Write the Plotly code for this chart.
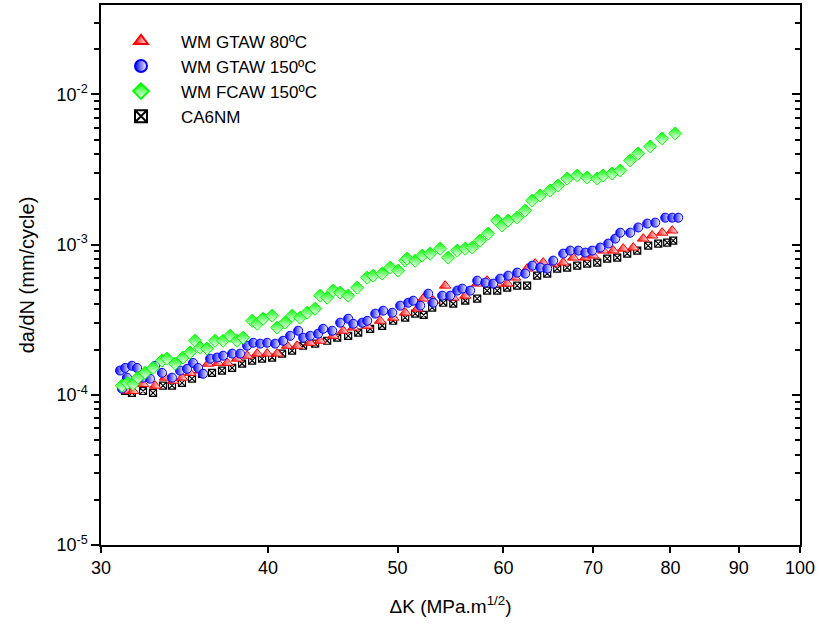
import plotly.graph_objects as go

# ---- data (dK in MPa.m^1/2, da/dN in mm/cycle) ----
ca6nm_dk = [31.27, 31.64, 32.25, 32.81, 33.38, 33.90, 34.49, 35.09, 35.70, 36.32, 36.95, 37.60,
            38.25, 38.92, 39.59, 40.28, 40.98, 41.69, 42.49, 43.38, 44.29, 45.06, 45.92, 46.72,
            47.69, 48.69, 49.62, 50.66, 51.54, 52.30, 53.07, 54.09, 55.03, 56.18, 57.35, 58.34,
            59.36, 60.39, 61.44, 62.50, 63.59, 64.70, 65.82, 66.96, 68.13, 69.31, 70.52, 71.74,
            72.99, 74.26, 75.55, 76.99, 78.33, 79.55, 80.38]
ca6nm_dadn = [1.06e-4, 1.03e-4, 1.06e-4, 1.03e-4, 1.15e-4, 1.15e-4, 1.20e-4, 1.28e-4, 1.38e-4, 1.40e-4,
              1.45e-4, 1.51e-4, 1.61e-4, 1.69e-4, 1.74e-4, 1.77e-4, 1.88e-4, 1.97e-4, 2.12e-4, 2.19e-4,
              2.29e-4, 2.40e-4, 2.47e-4, 2.59e-4, 2.75e-4, 2.88e-4, 3.11e-4, 3.26e-4, 3.47e-4, 3.40e-4,
              3.80e-4, 4.10e-4, 4.04e-4, 4.23e-4, 4.37e-4, 4.94e-4, 4.94e-4, 5.17e-4, 5.33e-4, 5.33e-4,
              6.21e-4, 6.41e-4, 6.92e-4, 7.03e-4, 7.24e-4, 7.47e-4, 7.59e-4, 8.07e-4, 8.19e-4, 8.71e-4,
              9.12e-4, 9.85e-4, 1.016e-3, 1.031e-3, 1.063e-3]

gtaw80_dk = [31.37, 31.70, 32.25, 32.93, 33.50, 33.96, 34.49, 34.97, 35.58, 36.07, 36.70, 37.28,
             37.92, 38.58, 39.26, 39.94, 40.63, 41.34, 42.05, 43.01, 43.75, 44.75, 45.53, 46.32,
             47.45, 48.52, 49.62, 50.66, 51.72, 52.26, 53.16, 54.27, 55.03, 56.18, 57.35, 58.34,
             59.36, 60.39, 61.22, 62.50, 63.37, 64.25, 65.37, 66.50, 67.66, 69.07, 70.03, 71.25,
             72.49, 73.75, 75.03, 76.33, 77.52, 78.87, 80.24]
gtaw80_dadn = [1.06e-4, 1.06e-4, 1.18e-4, 1.15e-4, 1.30e-4, 1.24e-4, 1.30e-4, 1.40e-4, 1.45e-4, 1.61e-4,
               1.63e-4, 1.63e-4, 1.74e-4, 1.82e-4, 1.88e-4, 1.88e-4, 1.88e-4, 2.12e-4, 2.12e-4, 2.22e-4,
               2.29e-4, 2.47e-4, 2.67e-4, 2.80e-4, 2.88e-4, 3.11e-4, 3.26e-4, 3.52e-4, 3.74e-4, 4.37e-4,
               4.23e-4, 5.33e-4, 4.43e-4, 4.57e-4, 5.50e-4, 5.75e-4, 5.50e-4, 5.50e-4, 6.03e-4, 6.92e-4,
               7.47e-4, 7.59e-4, 7.47e-4, 7.59e-4, 8.19e-4, 8.19e-4, 8.45e-4, 9.12e-4, 9.12e-4, 9.40e-4,
               9.55e-4, 1.096e-3, 1.15e-3, 1.20e-3, 1.24e-3]

gtaw150_dk = [31.00, 31.10, 31.27, 31.37, 31.64, 31.92, 32.25, 32.64, 32.93, 33.32, 33.90, 34.37,
              34.79, 35.15, 35.46, 35.76, 36.20, 36.64, 37.02, 37.60, 38.12, 38.58, 38.99, 39.46,
              39.94, 40.49, 41.05, 41.55, 42.13, 42.49, 43.01, 43.60, 43.98, 44.67, 45.29, 45.92,
              46.32, 47.04, 47.45, 48.11, 48.77, 49.54, 50.22, 50.92, 51.36, 51.99, 52.71, 53.16,
              53.99, 54.74, 55.41, 55.89, 56.66, 57.35, 58.14, 58.95, 59.66, 60.49, 61.44, 62.29,
              63.05, 63.92, 64.70, 65.37, 66.50, 67.31, 68.25, 69.07, 69.91, 70.88, 71.87, 72.74,
              73.37, 74.64, 75.68, 76.86, 77.93, 79.28, 80.24, 81.08]
gtaw150_dadn = [1.45e-4, 1.10e-4, 1.51e-4, 1.30e-4, 1.56e-4, 1.51e-4, 1.30e-4, 1.28e-4, 1.56e-4, 1.40e-4,
                1.30e-4, 1.45e-4, 1.49e-4, 1.63e-4, 1.51e-4, 1.38e-4, 1.74e-4, 1.77e-4, 1.82e-4, 1.88e-4,
                1.88e-4, 2.12e-4, 2.22e-4, 2.19e-4, 2.22e-4, 2.19e-4, 2.29e-4, 2.47e-4, 2.67e-4, 2.40e-4,
                2.47e-4, 2.55e-4, 2.75e-4, 2.67e-4, 3.02e-4, 3.21e-4, 2.97e-4, 3.02e-4, 3.11e-4, 3.47e-4,
                3.63e-4, 3.52e-4, 3.92e-4, 4.10e-4, 4.23e-4, 3.92e-4, 4.71e-4, 4.10e-4, 4.57e-4, 4.57e-4,
                4.94e-4, 5.09e-4, 4.94e-4, 5.75e-4, 5.58e-4, 5.50e-4, 5.93e-4, 6.21e-4, 6.51e-4, 6.41e-4,
                7.24e-4, 7.03e-4, 6.92e-4, 7.82e-4, 8.71e-4, 9.12e-4, 9.12e-4, 8.84e-4, 9.12e-4, 9.55e-4,
                1.016e-3, 1.096e-3, 1.20e-3, 1.20e-3, 1.30e-3, 1.38e-3, 1.40e-3, 1.51e-3, 1.51e-3, 1.51e-3]

fcaw150_dk = [31.10, 31.40, 31.70, 31.97, 32.36, 32.81, 33.32, 33.61, 34.08, 34.55, 34.97, 35.27,
              35.58, 36.01, 36.51, 37.02, 37.47, 37.92, 38.32, 38.92, 39.26, 39.66, 40.28, 40.63,
              41.19, 41.69, 42.27, 42.79, 43.38, 43.75, 44.29, 44.75, 45.29, 45.92, 46.64, 47.45,
              47.94, 48.69, 49.37, 50.05, 50.66, 50.83, 51.54, 52.17, 52.89, 53.81, 54.55, 55.41,
              56.18, 56.86, 57.64, 58.44, 59.36, 59.87, 60.49, 61.44, 62.29, 63.05, 63.92, 65.03,
              65.93, 66.96, 68.13, 69.31, 70.52, 71.25, 72.36, 73.37, 74.64, 75.68, 77.26, 78.87,
              80.66]
fcaw150_dadn = [1.15e-4, 1.20e-4, 1.18e-4, 1.30e-4, 1.40e-4, 1.51e-4, 1.69e-4, 1.74e-4, 1.61e-4, 1.77e-4,
                1.91e-4, 2.29e-4, 2.06e-4, 2.03e-4, 2.29e-4, 2.29e-4, 2.47e-4, 2.29e-4, 2.40e-4, 3.11e-4,
                2.97e-4, 3.21e-4, 3.36e-4, 2.80e-4, 3.02e-4, 3.36e-4, 3.26e-4, 3.52e-4, 3.74e-4, 4.57e-4,
                4.43e-4, 4.94e-4, 4.79e-4, 4.57e-4, 5.17e-4, 6.03e-4, 6.21e-4, 6.41e-4, 7.03e-4, 6.71e-4,
                7.82e-4, 8.07e-4, 7.80e-4, 8.45e-4, 8.71e-4, 9.40e-4, 8.19e-4, 9.12e-4, 9.40e-4, 9.55e-4,
                1.063e-3, 1.184e-3, 1.445e-3, 1.339e-3, 1.445e-3, 1.514e-3, 1.685e-3, 1.965e-3, 2.122e-3,
                2.291e-3, 2.474e-3, 2.754e-3, 2.884e-3, 2.797e-3, 2.754e-3, 2.884e-3, 2.974e-3, 3.113e-3,
                3.631e-3, 4.043e-3, 4.501e-3, 5.089e-3, 5.495e-3]

x_ticks = [30, 40, 50, 60, 70, 80, 90, 100]
x_ticktext = ["30", "40", "50", "60", "70", "80", "90", "100"]
y_ticks = [1e-5, 1e-4, 1e-3, 1e-2]
y_ticktext = ["10<sup>-5</sup>", "10<sup>-4</sup>", "10<sup>-3</sup>", "10<sup>-2</sup>"]

series_names = ["WM GTAW 80ºC", "WM GTAW 150ºC", "WM FCAW 150ºC", "CA6NM"]

FONT = "Arial, 'Liberation Sans', sans-serif"

fig = go.Figure()

fig.add_trace(go.Scatter(
    x=ca6nm_dk, y=ca6nm_dadn, mode="markers", name=series_names[3], legendrank=4,
    marker=dict(symbol="square-x-open", size=7, color="black", line=dict(color="black", width=1.2)),
))
fig.add_trace(go.Scatter(
    x=gtaw80_dk, y=gtaw80_dadn, mode="markers", name=series_names[0], legendrank=1,
    marker=dict(symbol="triangle-up", size=10, color="#ff0000",
                line=dict(color="#ff0000", width=1),
                gradient=dict(type="horizontal", color="white")),
))
fig.add_trace(go.Scatter(
    x=gtaw150_dk, y=gtaw150_dadn, mode="markers", name=series_names[1], legendrank=2,
    marker=dict(symbol="circle", size=9, color="#0000ff",
                line=dict(color="#0000ff", width=1),
                gradient=dict(type="horizontal", color="white")),
))
fig.add_trace(go.Scatter(
    x=fcaw150_dk, y=fcaw150_dadn, mode="markers", name=series_names[2], legendrank=3,
    marker=dict(symbol="diamond", size=10, color="#00ff00",
                line=dict(color="#00ff00", width=1),
                gradient=dict(type="vertical", color="white")),
))
# empty trace carrying the right-hand mirrored axis with inward ticks
fig.add_trace(go.Scatter(x=[], y=[], yaxis="y2", showlegend=False, hoverinfo="skip"))

yrange = [-5, -1.405]

fig.update_layout(
    width=820, height=631,
    margin=dict(l=101, r=20, t=5, b=86, autoexpand=False),
    paper_bgcolor="white", plot_bgcolor="white",
    font=dict(family=FONT, size=17, color="black"),
    showlegend=True,
    legend=dict(x=0.0, y=0.966, xanchor="left", yanchor="top",
                bgcolor="rgba(0,0,0,0)", borderwidth=0,
                font=dict(family=FONT, size=17, color="black"),
                tracegroupgap=0, itemsizing="constant", itemwidth=70),
    xaxis=dict(
        type="log", range=[1.4771, 2.0], tickvals=x_ticks, ticktext=x_ticktext,
        ticks="outside", ticklen=6, tickwidth=1.5, tickcolor="black",
        showline=True, linecolor="black", linewidth=1.5, mirror=True,
        showgrid=False, zeroline=False, automargin=False,
        tickfont=dict(family=FONT, size=18, color="black"),
        title=dict(text="ΔK (MPa.m<sup>1/2</sup>)", font=dict(family=FONT, size=19, color="black"),
                   standoff=22),
    ),
    yaxis=dict(
        type="log", range=yrange, tickvals=y_ticks, ticktext=y_ticktext,
        ticks="outside", ticklen=8, tickwidth=1.5, tickcolor="black",
        minor=dict(ticks="outside", ticklen=5, tickwidth=1.5, tickcolor="black", dtick="D1", showgrid=False),
        showline=True, linecolor="black", linewidth=1.5, mirror=True,
        showgrid=False, zeroline=False, automargin=False,
        tickfont=dict(family=FONT, size=18, color="black"),
        title=dict(text="da/dN (mm/cycle)", font=dict(family=FONT, size=20, color="black"),
                   standoff=16),
    ),
    yaxis2=dict(
        type="log", range=yrange, overlaying="y", side="right", tickvals=y_ticks,
        showticklabels=False, ticks="inside", ticklen=8, tickwidth=1.5, tickcolor="black",
        minor=dict(ticks="inside", ticklen=5, tickwidth=1.5, tickcolor="black", dtick="D1", showgrid=False),
        showline=True, linecolor="black", linewidth=1.5, showgrid=False, zeroline=False,
        automargin=False,
    ),
)

fig.write_html("out.html", config={"displayModeBar": False},
               post_script="document.body.style.margin='0';")
